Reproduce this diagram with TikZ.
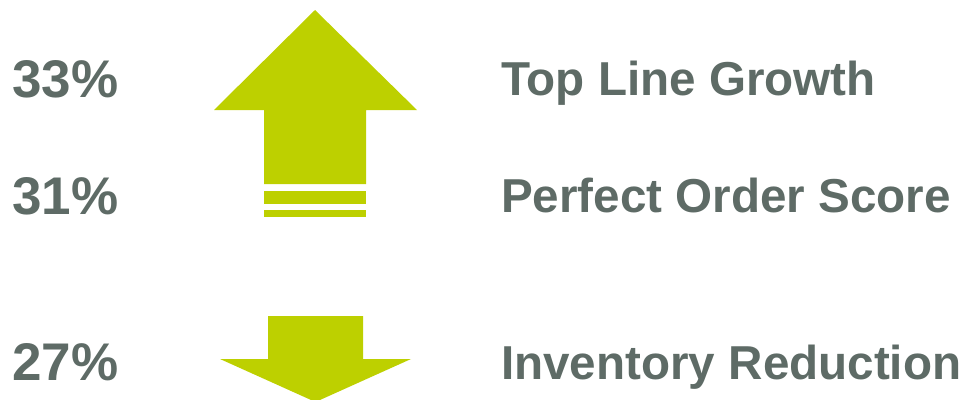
\documentclass[tikz,border=0pt]{standalone}
\usepackage{fontspec}
\setmainfont{Liberation Sans}
\usepackage{tikz}
\usetikzlibrary{positioning}
\definecolor{lime}{HTML}{BDD000}
\definecolor{slate}{HTML}{5E6B66}

\begin{document}
\begin{tikzpicture}[x=1bp,y=-1bp,
                    label/.style={anchor=base west,inner sep=0pt,text=slate,
                                  font=\fontsize{47.6bp}{56bp}\selectfont\bfseries},
                    figure/.style={label,font=\fontsize{53bp}{62bp}\selectfont\bfseries}]
  \tikzstyle{arrowbody}=[fill=lime,draw=none]
  \useasboundingbox (0,0) rectangle (968,399);

  \node[figure] (p33) at (12,97)  {33\%};
  \node[figure] (p31) at (12,214) {31\%};
  \node[figure] (p27) at (12,380) {27\%};

  \node[label] (tlg) at (501,95)  {Top Line Growth};
  \node[label] (pos) at (501,212) {Perfect Order Score};
  \node[label] (inv) at (501,379) {Inventory Reduction};

  \fill[arrowbody] (315,10) -- (417,110) -- (366,110) -- (366,184)
    -- (264,184) -- (264,110) -- (214,110) -- cycle;
  \fill[arrowbody] (264,191) rectangle (366,204);
  \fill[arrowbody] (264,210) rectangle (366,217);

  \fill[arrowbody] (268,316) -- (363,316) -- (363,359) -- (411,359)
    -- (315.5,402) -- (220,359) -- (268,359) -- cycle;
\end{tikzpicture}
\end{document}
